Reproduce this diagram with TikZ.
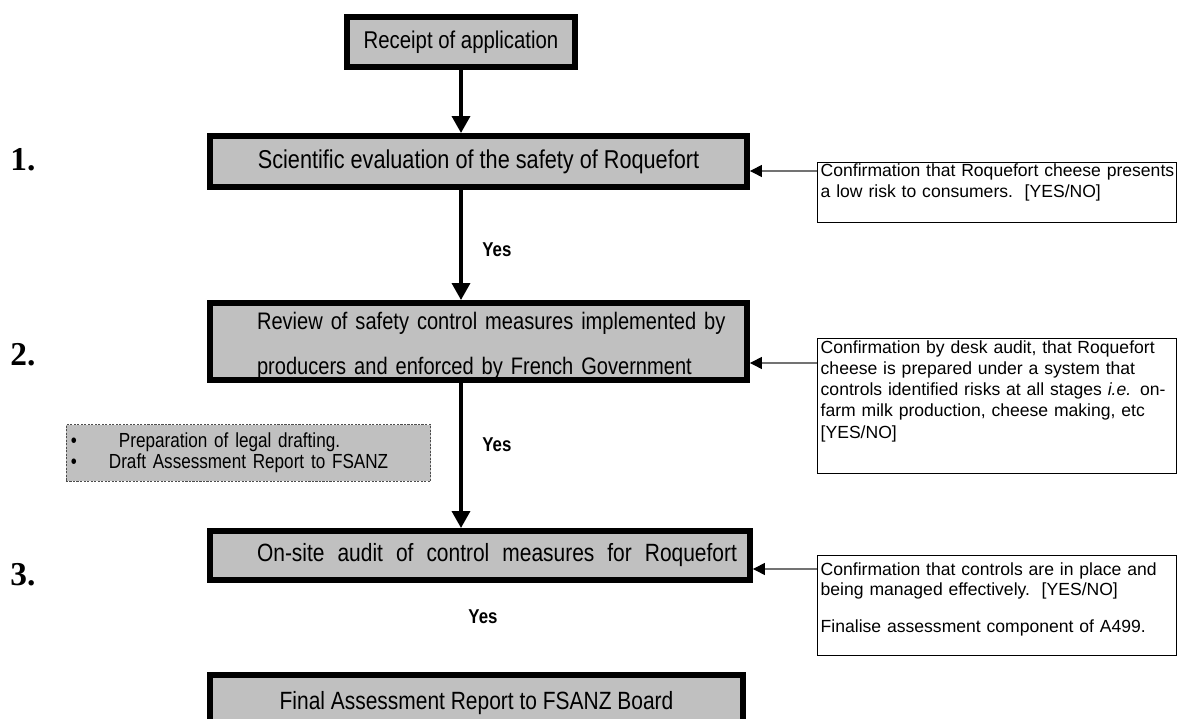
\documentclass[tikz,border=0pt]{standalone}
\usepackage{fontspec}
\setmainfont{Liberation Sans}
\newfontfamily\narrowfont{Liberation Sans}[FakeStretch=0.84]
\newfontfamily\numfont{Liberation Serif}
\usetikzlibrary{arrows.meta,positioning}
\definecolor{boxgray}{RGB}{192,192,192}

\begin{document}
\begin{tikzpicture}[x=0.02cm, y=-0.02cm,
    stage/.style={draw, fill=boxgray, line width=3.4pt, inner sep=0pt},
    check/.style={draw, fill=white, line width=0.8pt, anchor=north west, minimum width=7.18cm,
        text width=7.06cm, inner xsep=0.06cm, inner ysep=0pt, align=left, font=\fontsize{10}{12}\selectfont},
    flow/.style={line width=2pt, -{Triangle[length=0.34cm,width=0.36cm]}},
    link/.style={draw=black!55, line width=0.7pt, -{Triangle[length=0.24cm,width=0.24cm,color=black,fill=black]}},
    yes/.style={font=\narrowfont\bfseries\fontsize{11.4}{13}\selectfont, inner sep=0pt},
    num/.style={font=\numfont\bfseries\fontsize{19}{22}\selectfont, inner sep=0pt, anchor=base west}]
    \useasboundingbox (0,0) rectangle (1178,719);

    \node[stage, minimum width=4.56cm, minimum height=1cm, font=\narrowfont\fontsize{13.8}{16}\selectfont] (rec) at (461,42) {Receipt of application};
    \node[stage, minimum width=10.74cm, minimum height=1.02cm, font=\narrowfont\fontsize{14.7}{17}\selectfont] (b1) at (478.5,161.5) {Scientific evaluation of the safety of Roquefort};
    \node[stage, minimum width=10.74cm, minimum height=1.54cm, text width=10.62cm, inner xsep=0.06cm, align=left,
        text height=0.54cm, text depth=1.0cm, font=\narrowfont\fontsize{13.6}{25.5}\selectfont] (b2) at (478.5,341.5)
        {\hspace*{0.88cm}Review of safety control measures implemented by\\\hspace*{0.88cm}producers and enforced by French Government};
    \draw[line width=3.4pt] ([yshift=1.7pt]b2.south west) -- ([yshift=1.7pt]b2.south east);
    \node[stage, minimum width=10.8cm, minimum height=0.98cm, text width=10.68cm, inner xsep=0.06cm, align=left,
        font=\narrowfont\fontsize{14.2}{16}\selectfont] (b3) at (480,555.5)
        {\hspace*{0.88cm}\makebox[9.6cm][s]{On-site\hfill audit\hfill of\hfill control\hfill measures\hfill for\hfill Roquefort}};
    \node[stage, minimum width=10.66cm, minimum height=1.12cm, font=\narrowfont\fontsize{14.2}{16}\selectfont] (b4) at (476.5,703) {Final Assessment Report to FSANZ Board};

    \draw[flow] (rec.south) -- (rec.south |- b1.north);
    \draw[flow] (rec.south |- b1.south) -- (rec.south |- b2.north);
    \draw[flow] (rec.south |- b2.south) -- (rec.south |- b3.north);

    \node[yes, anchor=west] (yes1) at (482,250) {Yes};
    \node[yes, anchor=west] (yes2) at (482,445) {Yes};
    \node[yes] (yes3) at (483,617) {Yes};

    \node[draw=black!70, dash pattern=on 1.2pt off 0.8pt, line width=0.5pt, fill=boxgray, anchor=north west,
        minimum width=7.3cm, text width=7.1cm, inner xsep=0.1cm, inner ysep=0pt, align=left,
        text height=0.45cm, text depth=0.68cm, font=\narrowfont\fontsize{11.6}{12}\selectfont] (todo) at (65.5,424.5)
        {\makebox[0.96cm][l]{\textbullet}Preparation of legal drafting.\\\makebox[0.76cm][l]{\textbullet}Draft Assessment Report to FSANZ};

    \node[check, text height=0.28cm, text depth=0.92cm] (r1) at (817,162)
        {\mbox{Confirmation that Roquefort cheese presents}\\a low risk to consumers.\ \ [YES/NO]};
    \node[check, text height=0.3cm, text depth=2.4cm] (r2) at (817,338)
        {Confirmation by desk audit, that Roquefort\\cheese is prepared under a system that\\controls identified risks at all stages \textit{i.e.} on-\\farm milk production, cheese making, etc\\{[YES/NO]}};
    \node[check, text height=0.4cm, text depth=1.6cm, font=\fontsize{10}{11}\selectfont] (r3) at (817,555)
        {Confirmation that controls are in place and\\being managed effectively.\ \ [YES/NO]\\[10.5pt]Finalise assessment component of A499.};

    \coordinate (c1) at ([yshift=-0.18cm]r1.north west);
    \coordinate (c2) at ([yshift=-0.5cm]r2.north west);
    \coordinate (c3) at ([yshift=-0.28cm]r3.north west);
    \draw[link] (c1) -- (c1 -| b1.east);
    \draw[link] (c2) -- (c2 -| b2.east);
    \draw[link] (c3) -- (c3 -| b3.east);

    \node[num] (n1) at (10,171) {1.};
    \node[num] (n2) at (10,366) {2.};
    \node[num] (n3) at (10,586) {3.};
\end{tikzpicture}
\end{document}
